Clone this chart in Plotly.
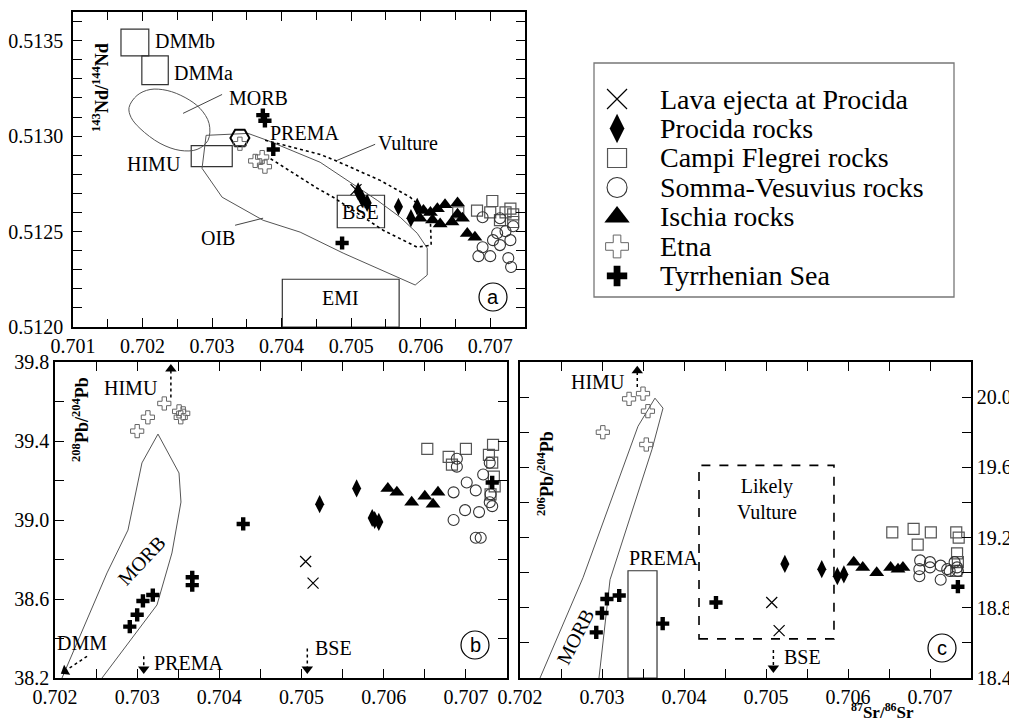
import plotly.graph_objects as go

# The page adds an 8 px body margin; screen positions below are converted with that
# offset, and the figure fills the rest of the 1017x722 window.
OFF = 8
W, H = 1017 - OFF, 722 - OFF
SERIF = "Liberation Serif"
SANS = "Liberation Sans"

# ---------------- Panel (a): 143Nd/144Nd vs 87Sr/86Sr ----------------
lava_a_sr = [0.70507]
lava_a_nd = [0.51272]
procida_a_sr = [0.70510, 0.70516, 0.70523, 0.70568, 0.70595, 0.70586]
procida_a_nd = [0.51271, 0.51267, 0.51265, 0.51263, 0.51263, 0.51257]
campi_a_sr = [0.70681, 0.70703, 0.70700, 0.70729, 0.70733, 0.70733, 0.70714, 0.70654, 0.70722]
campi_a_nd = [0.51261, 0.51266, 0.51260, 0.51262, 0.51259, 0.51255, 0.51256, 0.51260, 0.51260]
somma_a_sr = [0.70689, 0.70714, 0.70733, 0.70710, 0.70722, 0.70704, 0.70729, 0.70689, 0.70700, 0.70683, 0.70726, 0.70730, 0.70714]
somma_a_nd = [0.512575, 0.51257, 0.512528, 0.512491, 0.512502, 0.512455, 0.512455, 0.512418, 0.512371, 0.512371, 0.512361, 0.512314, 0.512429]
ischia_a_sr = [0.70604, 0.70614, 0.70624, 0.70635, 0.70653, 0.70599, 0.70617, 0.70628, 0.70645, 0.70660, 0.70667, 0.70678, 0.70653]
ischia_a_nd = [0.51261, 0.51260, 0.51262, 0.51264, 0.51265, 0.51257, 0.51256, 0.51254, 0.51255, 0.51257, 0.51249, 0.51247, 0.51259]
etna_a_sr = [0.70362, 0.70372, 0.70376, 0.70340]
etna_a_nd = [0.51287, 0.51289, 0.51284, 0.51296]
tyr_a_sr = [0.70373, 0.70376, 0.70388, 0.70487]
tyr_a_nd = [0.51311, 0.51308, 0.51293, 0.51244]
prema_a_sr = [0.70340]
prema_a_nd = [0.51299]

# reference fields, panel (a)
morb_a_sr = [0.701806, 0.701921, 0.702108, 0.702353, 0.702612, 0.702827, 0.702957, 0.702942,
             0.702784, 0.702540, 0.702252, 0.701964, 0.701835, 0.701806]
morb_a_nd = [0.513150, 0.513213, 0.513244, 0.513239, 0.513202, 0.513145, 0.513066, 0.512978,
             0.512930, 0.512925, 0.512962, 0.513040, 0.513098, 0.513150]
oib_a_sr = [0.702914, 0.703518, 0.703791, 0.704554, 0.704986, 0.705374, 0.705705, 0.705950,
            0.706094, 0.706094, 0.705921, 0.704885, 0.704266, 0.703734, 0.703144, 0.702856, 0.702914]
oib_a_nd = [0.513004, 0.513014, 0.512978, 0.512863, 0.512758, 0.512664, 0.512575, 0.512491,
            0.512413, 0.512272, 0.512220, 0.512387, 0.512497, 0.512559, 0.512680, 0.512831, 0.513004]
vult_a_sr = [0.703763, 0.704554, 0.704799, 0.705417, 0.705849, 0.706137, 0.706151, 0.705950,
             0.705460, 0.704741, 0.704511, 0.703835]
vult_a_nd = [0.512978, 0.512904, 0.512868, 0.512768, 0.512680, 0.512585, 0.512429, 0.512418,
             0.512507, 0.512680, 0.512727, 0.512883]
boxes_a = {  # name: (sr0, sr1, nd0, nd1)
    "DMMb": (0.70169, 0.70209, 0.51342, 0.51356),
    "DMMa": (0.70199, 0.70237, 0.51327, 0.51342),
    "HIMU": (0.70270, 0.70329, 0.51284, 0.51295),
    "BSE": (0.70480, 0.70548, 0.51252, 0.51269),
    "EMI": (0.70401, 0.70569, 0.51200, 0.51225),
}

# ---------------- Panel (b): 208Pb/204Pb vs 87Sr/86Sr ----------------
lava_b_sr = [0.70505, 0.70514]
lava_b_pb8 = [38.79, 38.68]
procida_b_sr = [0.70522, 0.70567, 0.70586, 0.70589, 0.70594]
procida_b_pb8 = [39.08, 39.16, 39.01, 39.00, 38.99]
campi_b_sr = [0.70653, 0.70700, 0.70679, 0.70683, 0.70733, 0.70728, 0.70732, 0.70734, 0.70735, 0.70730]
campi_b_pb8 = [39.36, 39.36, 39.32, 39.28, 39.38, 39.33, 39.29, 39.22, 39.17, 39.13]
somma_b_sr = [0.70689, 0.70689, 0.70685, 0.70701, 0.70712, 0.70721, 0.70699, 0.70716, 0.70685,
              0.70712, 0.70718, 0.70729, 0.70730, 0.70732, 0.70729]
somma_b_pb8 = [39.31, 39.27, 39.14, 39.19, 39.15, 39.23, 39.05, 39.04, 39.00, 38.91, 38.91,
               39.09, 39.13, 39.07, 39.29]
ischia_b_sr = [0.70605, 0.70616, 0.70634, 0.70650, 0.70660, 0.70666]
ischia_b_pb8 = [39.16, 39.14, 39.09, 39.12, 39.08, 39.14]
etna_b_sr = [0.70300, 0.70313, 0.70333, 0.70351, 0.70356, 0.70353]
etna_b_pb8 = [39.45, 39.52, 39.59, 39.55, 39.54, 39.52]
tyr_b_sr = [0.70291, 0.70300, 0.70307, 0.70319, 0.70367, 0.70367, 0.70429, 0.70732]
tyr_b_pb8 = [38.46, 38.52, 38.59, 38.62, 38.71, 38.67, 38.98, 39.19]
morb_b_sr = [0.702085, 0.702633, 0.702888, 0.703058, 0.703253, 0.703509, 0.703533, 0.703423, 0.703241, 0.702572]
morb_b_pb8 = [38.20, 38.732, 38.949, 39.289, 39.435, 39.238, 39.091, 38.833, 38.570, 38.20]

# ---------------- Panel (c): 206Pb/204Pb vs 87Sr/86Sr ----------------
lava_c_sr = [0.70507, 0.70516]
lava_c_pb6 = [18.83, 18.67]
procida_c_sr = [0.70523, 0.70568, 0.70587, 0.70595]
procida_c_pb6 = [19.05, 19.02, 18.98, 18.99]
campi_c_sr = [0.70654, 0.70680, 0.70701, 0.70685, 0.70732, 0.70735, 0.70733, 0.70734, 0.70732]
campi_c_pb6 = [19.23, 19.25, 19.23, 19.16, 19.23, 19.20, 19.11, 19.06, 19.01]
somma_c_sr = [0.70688, 0.70700, 0.70687, 0.70700, 0.70687, 0.70713, 0.70721, 0.70713, 0.70724,
              0.70733, 0.70730, 0.70734]
somma_c_pb6 = [19.07, 19.06, 19.02, 19.03, 18.98, 19.04, 19.02, 18.96, 19.01, 19.03, 19.06, 19.01]
ischia_c_sr = [0.70607, 0.70618, 0.70635, 0.70652, 0.70661, 0.70667]
ischia_c_pb6 = [19.06, 19.03, 19.00, 19.03, 19.02, 19.03]
etna_c_sr = [0.70333, 0.70350, 0.70356, 0.70301, 0.70354]
etna_c_pb6 = [19.99, 20.02, 19.92, 19.80, 19.73]
tyr_c_sr = [0.70293, 0.70300, 0.70306, 0.70321, 0.70374, 0.70439, 0.70734]
tyr_c_pb6 = [18.66, 18.77, 18.85, 18.87, 18.71, 18.83, 18.92]
morb_c_sr = [0.702244, 0.702768, 0.703439, 0.703646, 0.703744, 0.703610, 0.703098, 0.702963]
morb_c_pb6 = [18.40, 18.971, 19.834, 19.994, 19.937, 19.703, 18.960, 18.40]
prema_box_c = (0.703317, 0.703671, 18.40, 19.011)
vulture_box_c = (0.704183, 0.705829, 18.623, 19.611)

# tick labels
ticks_sr_a = [0.701, 0.702, 0.703, 0.704, 0.705, 0.706, 0.707]
ticks_nd = [0.5120, 0.5125, 0.5130, 0.5135]
ticks_sr_bc = [0.702, 0.703, 0.704, 0.705, 0.706, 0.707]
ticks_pb8 = [38.2, 38.6, 39.0, 39.4, 39.8]
ticks_pb6 = [18.4, 18.8, 19.2, 19.6, 20.0]

legend_labels = ["Lava ejecta at Procida", "Procida rocks", "Campi Flegrei rocks",
                 "Somma-Vesuvius rocks", "Ischia rocks", "Etna", "Tyrrhenian Sea"]
groups = ["lava", "procida", "campi", "somma", "ischia", "etna", "tyr"]

STY = {
    "lava": dict(symbol="x-thin-open", size=11, color="black", lw=1.2, lsize=20),
    "procida": dict(symbol="diamond-tall", size=13, color="black", lw=0, lsize=21),
    "campi": dict(symbol="square-open", size=11, color="#555555", lw=1.2, lsize=19),
    "somma": dict(symbol="circle-open", size=11, color="#333333", lw=1.1, lsize=20),
    "ischia": dict(symbol="triangle-up", size=13, color="black", lw=0, lsize=22),
    "etna": dict(symbol="cross-open", size=11, color="#666666", lw=1.0, lsize=19),
    "tyr": dict(symbol="cross", size=11, color="black", lw=0, lsize=17),
}

fig = go.Figure()


def add_line(xs, ys, ax, color="#555555", width=1.0, dash="solid", shape="linear"):
    fig.add_trace(go.Scatter(x=xs, y=ys, mode="lines", xaxis="x" + ax, yaxis="y" + ax,
                             line=dict(color=color, width=width, dash=dash, shape=shape),
                             showlegend=False, hoverinfo="skip"))


def add_pts(xs, ys, g, ax, size=None):
    s = STY[g]
    fig.add_trace(go.Scatter(x=xs, y=ys, mode="markers", xaxis="x" + ax, yaxis="y" + ax,
                             marker=dict(symbol=s["symbol"], size=size or s["size"], color=s["color"],
                                         line=dict(width=s["lw"], color=s["color"])),
                             showlegend=False, hoverinfo="skip"))


shapes = []
annotations = []


def sx(px):
    return (px - OFF) / W


def sy(py):
    return 1 - (py - OFF) / H


def rect(x0, x1, y0, y1, ax, color="#333333", width=1.2, dash="solid"):
    shapes.append(dict(type="rect", xref="x" + ax, yref="y" + ax, x0=x0, x1=x1, y0=y0, y1=y1,
                       line=dict(color=color, width=width, dash=dash), layer="below"))


def seg(x0, y0, x1, y1, ax, color="#444444", width=1.0, dash="solid"):
    shapes.append(dict(type="line", xref="x" + ax, yref="y" + ax, x0=x0, x1=x1, y0=y0, y1=y1,
                       line=dict(color=color, width=width, dash=dash)))


def label(text, x, y, ax, size=20, xanchor="center", angle=0):
    annotations.append(dict(text=text, x=x, y=y, xref="x" + ax, yref="y" + ax, showarrow=False,
                            font=dict(family=SERIF, size=size, color="black"), xanchor=xanchor,
                            yanchor="middle", textangle=angle))


def arrow(x0, y0, x1, y1, ax, angle):
    seg(x0, y0, x1, y1, ax, color="black", width=1.5, dash="dot")
    fig.add_trace(go.Scatter(x=[x1], y=[y1], mode="markers", xaxis="x" + ax, yaxis="y" + ax,
                             marker=dict(symbol="triangle-up", size=10, color="black", angle=angle),
                             showlegend=False, hoverinfo="skip"))


# ---- panel a outlines
add_line(morb_a_sr, morb_a_nd, "", shape="spline")
add_line(oib_a_sr, oib_a_nd, "")
add_line(vult_a_sr, vult_a_nd, "", color="black", width=1.6, dash="dot")
for name, (x0, x1, y0, y1) in boxes_a.items():
    rect(x0, x1, y0, y1, "")
label("DMMb", 0.702151, 0.513500, "", xanchor="left")
label("DMMa", 0.702424, 0.513333, "", xanchor="left")
label("MORB", 0.703662, 0.513197, "")
seg(0.703144, 0.513218, 0.702583, 0.513119, "")
label("PREMA", 0.703806, 0.513014, "", xanchor="left")
label("HIMU", 0.702583, 0.512852, "", xanchor="right")
label("Vulture", 0.705820, 0.512962, "")
seg(0.705345, 0.512957, 0.704799, 0.512873, "")
label("OIB", 0.703086, 0.512465, "")
seg(0.703331, 0.512533, 0.703734, 0.512570, "")
label("BSE", 0.705129, 0.512601, "")
label("EMI", 0.704842, 0.512152, "")

fig.add_trace(go.Scatter(x=prema_a_sr, y=prema_a_nd, mode="markers", xaxis="x", yaxis="y",
                         marker=dict(symbol="hexagon2-open", size=19, color="black",
                                     line=dict(width=2, color="black")),
                         showlegend=False, hoverinfo="skip"))

# ---- panel b outlines
add_line(morb_b_sr, morb_b_pb8, "2")
label("MORB", 0.703058, 38.797, "2", angle=-47)
label("HIMU", 0.703277, 39.668, "2", xanchor="right")
arrow(0.70341, 39.62, 0.70341, 39.765, "2", 0)
label("DMM", 0.702328, 38.377, "2")
arrow(0.70239, 38.31, 0.702122, 38.235, "2", 238)
label("PREMA", 0.703180, 38.276, "2", xanchor="left")
arrow(0.70308, 38.31, 0.70308, 38.245, "2", 180)
label("BSE", 0.705139, 38.352, "2", xanchor="left")
arrow(0.70507, 38.35, 0.70507, 38.245, "2", 180)

# ---- panel c outlines
add_line(morb_c_sr, morb_c_pb6, "3")
rect(prema_box_c[0], prema_box_c[1], prema_box_c[2], prema_box_c[3], "3")
rect(vulture_box_c[0], vulture_box_c[1], vulture_box_c[2], vulture_box_c[3], "3",
     color="black", width=1.6, dash="dash")
label("MORB", 0.702671, 18.634, "3", angle=-63)
label("PREMA", 0.703744, 19.086, "3")
label("Likely<br>Vulture", 0.705012, 19.42, "3")
label("HIMU", 0.703305, 20.086, "3", xanchor="right")
arrow(0.70343, 20.057, 0.70343, 20.15, "3", 0)
label("BSE", 0.705195, 18.52, "3", xanchor="left")
arrow(0.70509, 18.56, 0.70509, 18.457, "3", 180)

# ---- data points
panel_data = [
    ("", [(lava_a_sr, lava_a_nd), (procida_a_sr, procida_a_nd), (campi_a_sr, campi_a_nd),
          (somma_a_sr, somma_a_nd), (ischia_a_sr, ischia_a_nd), (etna_a_sr, etna_a_nd),
          (tyr_a_sr, tyr_a_nd)]),
    ("2", [(lava_b_sr, lava_b_pb8), (procida_b_sr, procida_b_pb8), (campi_b_sr, campi_b_pb8),
           (somma_b_sr, somma_b_pb8), (ischia_b_sr, ischia_b_pb8), (etna_b_sr, etna_b_pb8),
           (tyr_b_sr, tyr_b_pb8)]),
    ("3", [(lava_c_sr, lava_c_pb6), (procida_c_sr, procida_c_pb6), (campi_c_sr, campi_c_pb6),
           (somma_c_sr, somma_c_pb6), (ischia_c_sr, ischia_c_pb6), (etna_c_sr, etna_c_pb6),
           (tyr_c_sr, tyr_c_pb6)]),
]
draw_order = [2, 3, 0, 1, 4, 5, 6]
for ax, sets in panel_data:
    for i in draw_order:
        add_pts(sets[i][0], sets[i][1], groups[i], ax)

# ---- legend (drawn in its own small axis)
leg_x_marker = 0.064
leg_x_text = 0.178
leg_rows = [0.846, 0.720, 0.594, 0.468, 0.342, 0.216, 0.090]
for g, lab, yy in zip(groups, legend_labels, leg_rows):
    s = STY[g]
    fig.add_trace(go.Scatter(x=[leg_x_marker], y=[yy], mode="markers", xaxis="x4", yaxis="y4",
                             marker=dict(symbol=s["symbol"], size=s["lsize"], color=s["color"],
                                         line=dict(width=s["lw"], color=s["color"])),
                             showlegend=False, hoverinfo="skip"))
    annotations.append(dict(text=lab, x=leg_x_text, y=yy, xref="x4", yref="y4", showarrow=False,
                            xanchor="left", yanchor="middle",
                            font=dict(family=SERIF, size=28, color="black")))
shapes.append(dict(type="rect", xref="paper", yref="paper", x0=sx(594), x1=sx(954),
                   y0=sy(297), y1=sy(63), line=dict(color="#777777", width=1.3)))

# ---- circled panel letters
for letter, cx, cy in [("a", 493, 297), ("b", 475, 645), ("c", 942, 648)]:
    shapes.append(dict(type="circle", xref="paper", yref="paper", x0=sx(cx - 14), x1=sx(cx + 14),
                       y0=sy(cy + 14), y1=sy(cy - 14), line=dict(color="black", width=1.2)))
    annotations.append(dict(text=letter, x=sx(cx), y=sy(cy), xref="paper", yref="paper",
                            showarrow=False, xanchor="center", yanchor="middle",
                            font=dict(family=SANS, size=20, color="black")))

# ---- axis titles
for txt, px, py, ang, fs in [("<b><sup>143</sup>Nd/<sup>144</sup>Nd</b>", 100, 88, -90, 18),
                             ("<b><sup>208</sup>Pb/<sup>204</sup>Pb</b>", 81, 420, -90, 18),
                             ("<b><sup>206</sup>Pb/<sup>204</sup>Pb</b>", 545, 474, -90, 18),
                             ("<b><sup>87</sup>Sr/<sup>86</sup>Sr</b>", 882, 711, 0, 17)]:
    annotations.append(dict(text=txt, x=sx(px), y=sy(py), xref="paper", yref="paper",
                            showarrow=False, xanchor="center", yanchor="middle", textangle=ang,
                            font=dict(family=SERIF, size=fs, color="black")))


def dom_x(a, b):
    return [sx(a), sx(b)]


def dom_y(top, bottom):
    return [sy(bottom), sy(top)]


def axstyle(**kw):
    base = dict(showline=True, linecolor="black", linewidth=1.5, mirror="ticks", ticks="inside",
                ticklen=9, tickwidth=1.2, tickcolor="black", showgrid=False, zeroline=False,
                automargin=False,
                tickfont=dict(family=SERIF, size=20, color="black"), tickmode="array")
    base.update(kw)
    return base


layout = dict(
    width=W, height=H, margin=dict(l=0, r=0, t=0, b=0, autoexpand=False),
    paper_bgcolor="white", plot_bgcolor="white", showlegend=False,
    font=dict(family=SERIF),
    xaxis=axstyle(domain=dom_x(73, 525), range=[0.701, 0.7075], anchor="y",
                  tickvals=ticks_sr_a, tickformat=".3f",
                  minor=dict(ticks="inside", ticklen=8, tickcolor="black", dtick=0.0005, tick0=0.701)),
    yaxis=axstyle(domain=dom_y(12, 327), range=[0.5120, 0.51365], anchor="x",
                  tickvals=ticks_nd, tickformat=".4f", ticklabelstandoff=4,
                  minor=dict(ticks="inside", ticklen=9, tickcolor="black", dtick=0.0001, tick0=0.512)),
    xaxis2=axstyle(domain=dom_x(55, 507), range=[0.702, 0.7075], anchor="y2",
                   tickvals=ticks_sr_bc, tickformat=".3f",
                   minor=dict(ticks="inside", ticklen=9, tickcolor="black", dtick=0.0005, tick0=0.702)),
    yaxis2=axstyle(domain=dom_y(362, 678), range=[38.2, 39.8], anchor="x2",
                   tickvals=ticks_pb8, tickformat=".1f",
                   minor=dict(ticks="inside", ticklen=9, tickcolor="black", dtick=0.2, tick0=38.2)),
    xaxis3=axstyle(domain=dom_x(520, 971), range=[0.702, 0.7075], anchor="y3",
                   tickvals=ticks_sr_bc, tickformat=".3f",
                   minor=dict(ticks="inside", ticklen=9, tickcolor="black", dtick=0.0005, tick0=0.702)),
    yaxis3=axstyle(domain=dom_y(362, 678), range=[18.4, 20.2], anchor="x3", side="right",
                   tickvals=ticks_pb6, tickformat=".1f",
                   minor=dict(ticks="inside", ticklen=9, tickcolor="black", dtick=0.2, tick0=18.4)),
    xaxis4=dict(domain=dom_x(594, 954), range=[0, 1], visible=False, anchor="y4", automargin=False),
    yaxis4=dict(domain=dom_y(63, 297), range=[0, 1], visible=False, anchor="x4", automargin=False),
    shapes=shapes, annotations=annotations,
)
fig.update_layout(**layout)
fig.write_html("out.html")
